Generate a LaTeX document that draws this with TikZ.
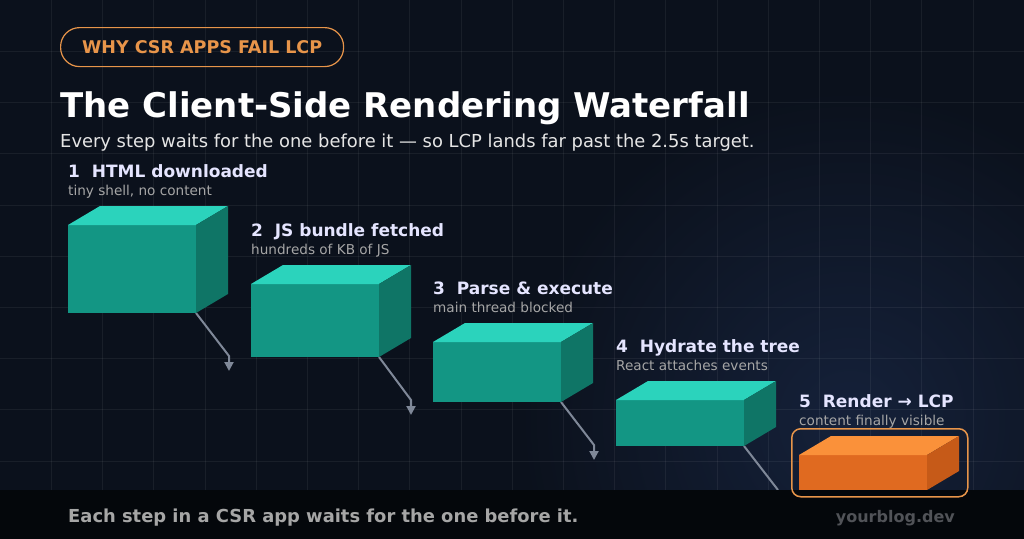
\documentclass[tikz,border=0pt]{standalone}
\usepackage{fontspec}
\setmainfont{DejaVu Sans}
\usetikzlibrary{arrows.meta}
\begin{document}
\begin{tikzpicture}[x=1pt,y=-1pt,
  lbl/.style={anchor=base west,inner sep=0,text=white!90!blue,font=\bfseries\fontsize{17}{19}\selectfont},
  sub/.style={anchor=base west,inner sep=0,text=gray!70!white,font=\fontsize{13.6}{15}\selectfont},
  flow/.style={draw=arr,line width=2pt,-{Triangle[width=9pt,length=9pt]}}]
\definecolor{bg}{HTML}{0B111C}
\definecolor{bg2}{HTML}{15213A}
\definecolor{arr}{HTML}{7F8898}
\definecolor{tfront}{HTML}{139684}
\definecolor{ttop}{HTML}{2BD3BC}
\definecolor{tside}{HTML}{0F7566}
\definecolor{ofront}{HTML}{E06A20}
\definecolor{otop}{HTML}{FA913A}
\definecolor{oside}{HTML}{C65A18}
\definecolor{orng}{HTML}{E8954A}
\useasboundingbox (0,0) rectangle (1024,538);
\fill[bg] (-2,-2) rectangle (1026,540);
\begin{scope}
\clip (0,0) rectangle (1024,538);
\shade[inner color=bg2,outer color=bg] (850,420) circle (330);
\end{scope}
\foreach \i in {1,...,19} \draw[white,opacity=0.06] (\i*51.2,0) -- (\i*51.2,490);
\foreach \j in {1,...,9} \draw[white,opacity=0.06] (0,\j*51.2) -- (1024,\j*51.2);
% header
\node[draw=orng,line width=1.2pt,rounded corners=19pt,minimum width=283pt,minimum height=39pt,anchor=north west,text=orng,font=\bfseries\fontsize{17.5}{19}\selectfont] (pill) at (60,27) {WHY CSR APPS FAIL LCP};
\node[anchor=base west,inner sep=0,text=white,font=\bfseries\fontsize{34}{38}\selectfont] (title) at (60,117) {The Client-Side Rendering Waterfall};
\node[anchor=base west,inner sep=0,text=white!80!gray,font=\fontsize{17.9}{20}\selectfont] (subt) at (60,147) {Every step waits for the one before it — so LCP lands far past the 2.5s target.};
% arrows (drawn under boxes)
\coordinate (a1) at (196,313); \coordinate (b1) at (229,356); \coordinate (c1) at (229,371);
\coordinate (a2) at (379,357); \coordinate (b2) at (411,400); \coordinate (c2) at (411,415);
\coordinate (a3) at (561,402); \coordinate (b3) at (594,445); \coordinate (c3) at (594,460);
\coordinate (a4) at (744,446); \coordinate (b4) at (778,490);
\draw[flow] (a1) -- (b1) -- (c1);
\draw[flow] (a2) -- (b2) -- (c2);
\draw[flow] (a3) -- (b3) -- (c3);
\draw[draw=arr,line width=2pt] (a4) -- (b4);
% boxes
\foreach \x/\y/\h/\f/\t/\s in {68/225/88/tfront/ttop/tside, 251/284/73/tfront/ttop/tside, 433/342/60/tfront/ttop/tside, 616/400/46/tfront/ttop/tside, 799/455/35/ofront/otop/oside}{
  \fill[\f] (\x,\y) rectangle ++(128,\h);
  \fill[\t] (\x,\y) -- ++(32,-19) -- ++(128,0) -- ++(-32,19) -- cycle;
  \fill[\s] (\x+128,\y) -- ++(32,-19) -- ++(0,\h) -- ++(-32,19) -- cycle;
}
% labels
\node[lbl] (l1) at (68,177) {1\ \ HTML downloaded};
\node[sub] (s1) at (68,195) {tiny shell, no content};
\node[lbl] (l2) at (251,236) {2\ \ JS bundle fetched};
\node[sub] (s2) at (251,254) {hundreds of KB of JS};
\node[lbl] (l3) at (433,294) {3\ \ Parse \& execute};
\node[sub] (s3) at (433,312) {main thread blocked};
\node[lbl] (l4) at (616,352) {4\ \ Hydrate the tree};
\node[sub] (s4) at (616,370) {React attaches events};
\node[lbl] (l5) at (799,407) {5\ \ Render → LCP};
\node[sub] (s5) at (799,425) {content finally visible};
% footer
\fill[black!60!bg] (-2,490) rectangle (1026,540);
\node[draw=orng,line width=1.5pt,rounded corners=9pt,minimum width=176pt,minimum height=68pt,anchor=north west] (hl) at (791,428) {};
\node[anchor=base west,inner sep=0,text=gray!70!white,font=\bfseries\fontsize{17.9}{20}\selectfont] (foot) at (68,522) {Each step in a CSR app waits for the one before it.};
\node[anchor=base east,inner sep=0,text=gray!60!bg,font=\bfseries\fontsize{16}{18}\selectfont] (brand) at (955,522) {yourblog.dev};
\end{tikzpicture}
\end{document}
